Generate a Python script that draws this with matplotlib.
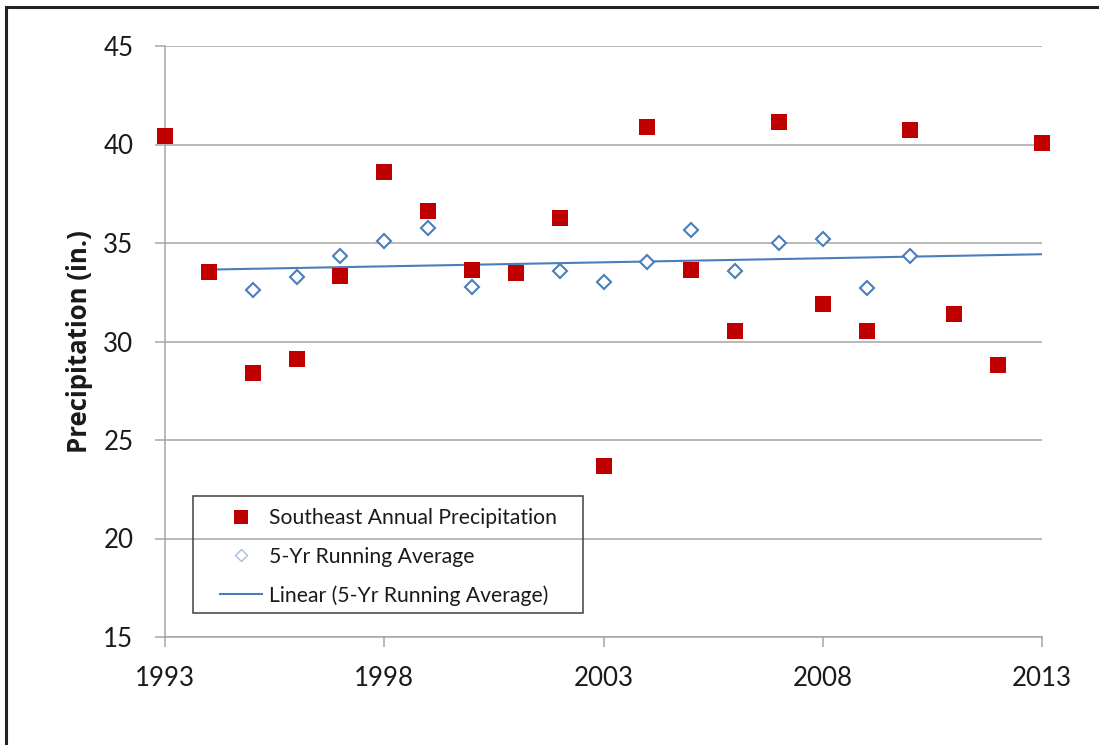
import matplotlib
matplotlib.use("Agg")
import matplotlib.pyplot as plt
from matplotlib.lines import Line2D
from matplotlib.patches import Rectangle

# Southeast annual precipitation (in.)
years = list(range(1993, 2014))
precip = [40.42, 33.51, 28.39, 29.10, 33.34, 38.59, 36.62, 33.63, 33.48, 36.25,
          23.70, 40.90, 33.65, 30.51, 41.15, 31.89, 30.51, 40.76, 31.39, 28.80, 40.09]

# 5-yr running average
avg_years = list(range(1995, 2011))
avg_vals = [32.63, 33.26, 34.32, 35.12, 35.76, 32.75, 33.60, 33.59,
            33.04, 34.05, 35.66, 33.60, 34.98, 35.20, 32.70, 34.36]

# linear trend of the running average (end points)
trend_years = [1994, 2013]
trend_vals = [33.65, 34.43]

x_ticks = [1993, 1998, 2003, 2008, 2013]
y_ticks = [15, 20, 25, 30, 35, 40, 45]

labels = ["Southeast Annual Precipitation",
          "5-Yr Running Average",
          "Linear (5-Yr Running Average)"]

red = "#c00000"
blue = "#4a7ebb"
grid = "#a6a6a6"
ink = "#1a1a1a"

plt.rcParams["font.family"] = ["Lato", "DejaVu Sans"]

fig = plt.figure(figsize=(10.99, 7.45), dpi=100)
ax = fig.add_axes([165 / 1099, 1 - 637 / 745, 877 / 1099, 591 / 745])

ax.plot(trend_years, trend_vals, color=blue, lw=1.5, zorder=2)
ax.plot(avg_years, avg_vals, ls="none", marker="D", ms=7.2, mfc="white",
        mec=blue, mew=1.5, zorder=3, clip_on=False)
ax.plot(years, precip, ls="none", marker="s", ms=11.5, color=red, mec=red,
        mew=0, zorder=4, clip_on=False)

ax.set_xlim(1993, 2013)
ax.set_ylim(15, 45)
ax.set_xticks(x_ticks)
ax.set_yticks(y_ticks)
ax.yaxis.grid(True, color=grid, lw=1.1)
ax.set_axisbelow(True)

for s in ["top", "right"]:
    ax.spines[s].set_visible(False)
for s in ["left", "bottom"]:
    ax.spines[s].set_color(grid)
    ax.spines[s].set_linewidth(1.1)

ax.tick_params(axis="both", direction="out", length=7.2, width=1.1,
               color=grid, labelsize=18.6, labelcolor=ink)
ax.tick_params(axis="y", pad=15.5)
ax.tick_params(axis="x", pad=14)

ax.set_ylabel("Precipitation (in.)", fontsize=18.5, fontweight="bold", color=ink,
              family=["Open Sans", "DejaVu Sans"])
ax.yaxis.set_label_coords(-0.0825, 0.5)

# legend: content without frame, box drawn separately
handles = [
    Line2D([], [], ls="none", marker="s", ms=10, color=red, mew=0),
    Line2D([], [], ls="none", marker="D", ms=6.2, mfc="white", mec="#a9bcd9", mew=1.0),
    Line2D([], [], color=blue, lw=1.5),
]
leg = ax.legend(handles, labels, loc="center left", bbox_to_anchor=(0.0627, 0.1353),
                borderaxespad=0, borderpad=0, fontsize=15.2, frameon=False,
                handlelength=2.0, handletextpad=0.31, labelspacing=0.87)
for t in leg.get_texts():
    t.set_color(ink)
ax.add_patch(Rectangle((0.0316, 0.0401), 0.4454, 0.1985, transform=ax.transAxes,
                       fill=False, edgecolor="#404040", lw=1.1, zorder=5))

# outer frame of the picture
fig.patches.append(Rectangle((6 / 1099, -0.1), 1.2, 1.1 - 7 / 745,
                             transform=fig.transFigure, fill=False,
                             edgecolor="#222222", lw=2.2))

fig.savefig("out.png", dpi=100, facecolor="white")
